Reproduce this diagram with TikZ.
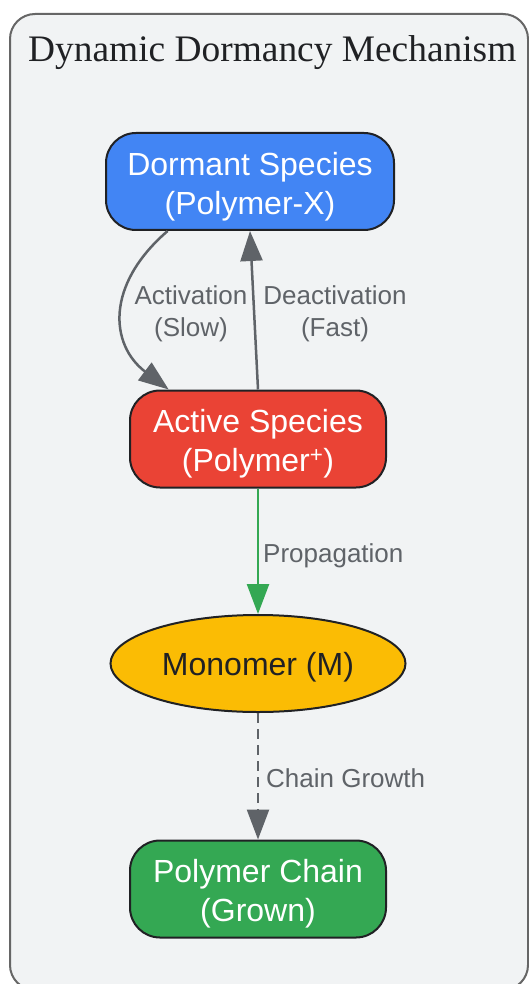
\documentclass[tikz,border=0pt]{standalone}
\usepackage{fontspec}
\setmainfont{Liberation Sans}
\newfontfamily\titlefont{Liberation Serif}
\usetikzlibrary{arrows.meta,shapes.geometric}
\definecolor{clusterbg}{HTML}{F1F3F4}
\definecolor{clusterline}{HTML}{666666}
\definecolor{gblue}{HTML}{4285F4}
\definecolor{gred}{HTML}{EA4335}
\definecolor{ggreen}{HTML}{34A853}
\definecolor{gyellow}{HTML}{FBBC04}
\definecolor{edgegray}{HTML}{5F6368}
\definecolor{inkdark}{HTML}{202124}
\begin{document}
\begin{tikzpicture}[x=1pt,y=-1pt,
    species/.style={draw=inkdark, line width=2pt, rounded corners=30pt, text=white,
      align=center, minimum height=97pt, inner sep=0pt, font=\fontsize{32}{39}\selectfont},
    edgelabel/.style={text=edgegray, align=center, inner sep=0pt, font=\fontsize{26}{32}\selectfont},
    flow/.style={draw=edgegray, line width=2.5pt, -{Triangle[length=30pt,width=22pt]}}]
      \useasboundingbox (0,0) rectangle (529,984);
      \fill[white] (0,0) rectangle (529,984);
      \begin{scope}
        \clip (0,0) rectangle (529,984);
        \draw[clusterline, fill=clusterbg, line width=2pt, rounded corners=25pt] (10,14) rectangle (528,990);
      \end{scope}
      \node[anchor=base west, inner sep=0pt, text=inkdark, font=\titlefont\fontsize{37.4}{44}\selectfont] (title) at (28,62) {Dynamic Dormancy Mechanism};

      \node[species, fill=gblue, minimum width=288pt] (dormant) at (250,181.5) {\rule{0pt}{33pt}Dormant Species\\(Polymer-X)};
      \node[species, fill=gred, minimum width=256pt] (active) at (258,439) {\rule{0pt}{33pt}Active Species\\(Polymer\textsuperscript{+})};
      \node[ellipse, draw=inkdark, line width=2pt, fill=gyellow, minimum width=295pt, minimum height=97pt,
        inner sep=0pt, text=inkdark, font=\fontsize{32}{39}\selectfont] (monomer) at (258,663.5) {\rule{0pt}{31pt}Monomer (M)};
      \node[species, fill=ggreen, minimum width=256pt] (chain) at (258,889) {\rule{0pt}{33pt}Polymer Chain\\(Grown)};

      \draw[flow] (dormant.211) .. controls (105,285) and (110,345) .. (active.151);
      \draw[flow] (active.north) -- (dormant.south);
      \draw[flow, draw=ggreen] (active.south) -- (monomer.north);
      \draw[flow, dash pattern=on 10pt off 6pt] (monomer.south) -- (chain.north);

      \node[edgelabel] (actlabel) at (191,314) {Activation\\(Slow)};
      \node[edgelabel] (deactlabel) at (335,314) {Deactivation\\(Fast)};
      \node[edgelabel, anchor=west] (proplabel) at (263,556) {Propagation};
      \node[edgelabel, anchor=west] (growlabel) at (266,778) {Chain Growth};
    \end{tikzpicture}
\end{document}
